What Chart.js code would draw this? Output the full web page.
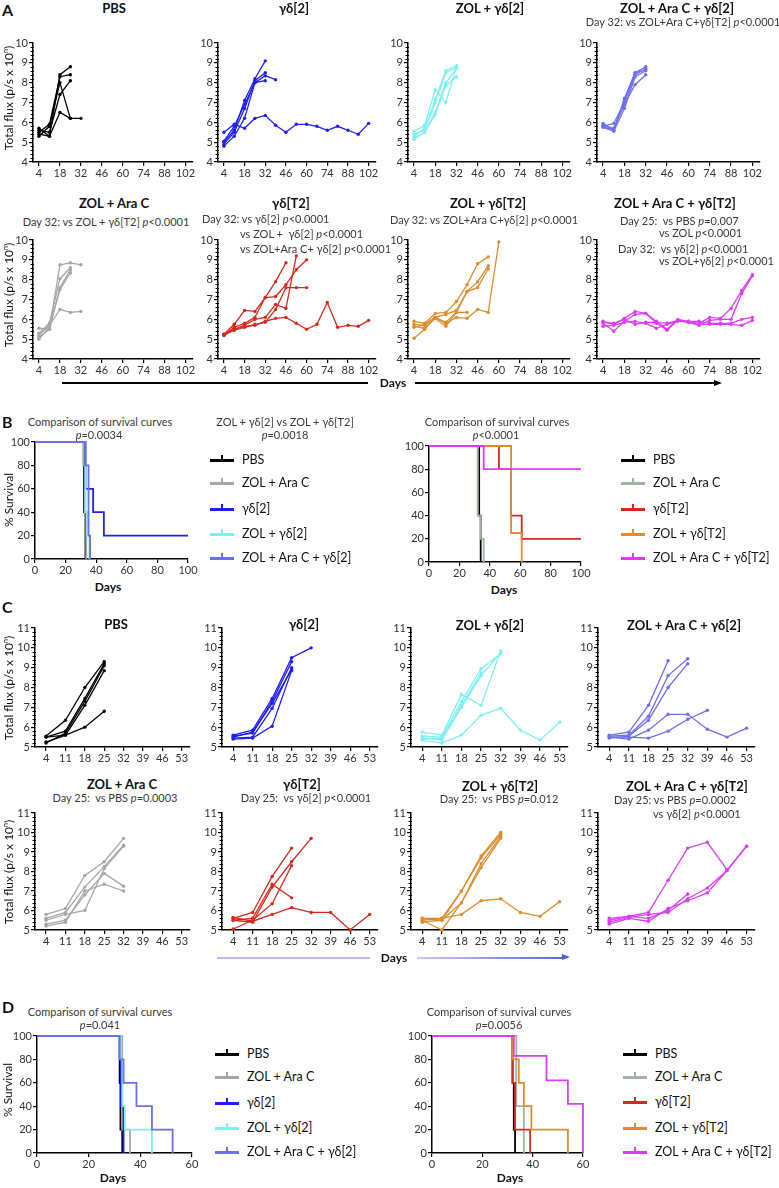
<!DOCTYPE html>
<html>
<head>
<meta charset="utf-8">
<script src="https://cdn.jsdelivr.net/npm/chart.js@4.4.0/dist/chart.umd.min.js"></script>
<style>
body{margin:0;background:#fff;font-family:Lato,"Open Sans",sans-serif;}
#fig{position:relative;width:779px;height:1188px;overflow:hidden;background:#fff;}
#fig canvas{position:absolute;}
.t{position:absolute;white-space:nowrap;line-height:1;color:#111;}
.c{transform:translate(-50%,-50%);}
.l{transform:translateY(-50%);}
.ttl{font-weight:bold;font-size:13px;}
.sub{font-size:11px;color:#3a3a3a;}
.big{font-weight:bold;font-size:16px;}
.rot{transform:translate(-50%,-50%) rotate(-90deg);font-size:12px;}
.leg{font-size:12.5px;}
.days{font-weight:bold;font-size:12px;}
.sym{position:absolute;height:3px;width:25px;}
.sym:after{content:"";position:absolute;left:11px;top:-4px;width:2px;height:5px;background:inherit;}
.bar{position:absolute;}
</style>
</head>
<body>
<div id="fig"></div>
<script>
// ---- data ----
const daysA = [4, 11, 18, 25, 32, 39, 46, 53, 60, 67, 74, 81, 88, 95, 102];
const daysC = [4, 11, 18, 25, 32, 39, 46, 53];
const xTicksA = [4, 18, 32, 46, 60, 74, 88, 102];
const xTicksC = [4, 11, 18, 25, 32, 39, 46, 53];
const yTicksA = [4, 5, 6, 7, 8, 9, 10];
const yTicksC = [5, 6, 7, 8, 9, 10, 11];
const survTicks100 = [0, 20, 40, 60, 80, 100];
const survTicks60 = [0, 20, 40, 60];

// panel A, total flux per mouse (log10)
const A_PBS = [
  [5.4, 5.3, 8.4, 8.8],
  [5.5, 5.9, 8.3, 8.4],
  [5.6, 5.5, 7.4, 8.1],
  [5.3, 5.8, 8.0, 6.2, 6.2],
  [5.7, 5.3, 6.5, 6.2]
];
const A_G2 = [
  [5.0, 5.6, 7.1, 8.2, 9.1],
  [4.9, 5.5, 6.7, 8.1, 8.5],
  [4.8, 5.3, 6.2, 8.0, 8.35, 8.15],
  [5.05, 5.8, 6.9, 8.0, 8.1],
  [5.5, 5.9, 5.7, 6.2, 6.35, 5.85, 5.5, 5.9, 5.9, 5.8, 5.6, 5.8, 5.6, 5.4, 5.95]
];
const A_ZG2 = [
  [5.55, 5.85, 7.65, 7.0, 8.8],
  [5.3, 5.7, 7.15, 8.6, 8.85],
  [5.2, 5.5, 6.5, 8.0, 8.7],
  [5.15, 5.5, 6.4, 7.85, 8.3],
  [5.4, 5.6, 7.0, 8.5, 8.75]
];
const A_ZAG2 = [
  [5.95, 5.6, 7.2, 8.5, 8.8],
  [5.8, 5.95, 7.0, 8.4, 8.7],
  [5.75, 5.55, 6.7, 8.3, 8.6],
  [5.85, 5.7, 6.9, 7.9, 8.4],
  [5.8, 5.6, 7.1, 8.5, 8.65]
];
const A_ZA = [
  [5.55, 5.5, 8.75, 8.85, 8.75],
  [5.3, 5.8, 8.05, 8.6],
  [5.1, 5.5, 7.6, 8.5],
  [5.0, 5.6, 7.5, 8.35],
  [5.2, 5.7, 6.5, 6.35, 6.4]
];
const A_GT2 = [
  [5.25, 5.75, 6.45, 6.4, 7.1, 7.9, 8.85],
  [5.2, 5.6, 5.8, 6.1, 7.1, 7.15, 7.75, 8.5, 9.0],
  [5.25, 5.5, 5.7, 6.0, 6.1, 6.75, 6.55, 9.2],
  [5.2, 5.45, 5.6, 5.75, 5.85, 6.5, 7.6, 7.6, 7.6],
  [5.2, 5.5, 5.65, 5.7, 5.9, 6.05, 6.1, 5.8, 5.5, 5.75, 6.85, 5.6, 5.7, 5.65, 5.95]
];
const A_ZGT2 = [
  [5.9, 5.8, 6.3, 6.35, 6.9, 7.75, 8.8, 9.15],
  [5.75, 5.7, 6.1, 6.25, 6.45, 7.4, 7.9, 8.7],
  [5.65, 5.55, 6.05, 5.65, 6.35, 7.4, 7.6, 8.55],
  [5.6, 5.75, 6.1, 5.8, 6.1, 6.05, 6.5, 6.35, 9.9],
  [5.05, 5.5, 6.1, 5.85, 6.35, 6.35]
];
const A_ZAGT2 = [
  [5.9, 5.75, 6.05, 6.4, 6.3, 5.9, 5.5, 6.0, 5.9, 5.8, 6.1, 6.05, 6.55, 7.45, 8.25],
  [5.8, 5.4, 5.9, 6.25, 6.3, 5.8, 5.45, 5.95, 5.85, 5.7, 5.95, 6.0, 6.0, 7.3, 8.2],
  [5.65, 5.7, 5.85, 5.9, 5.8, 5.55, 5.75, 5.9, 5.9, 5.9, 5.8, 5.8, 5.8, 6.0, 6.1],
  [5.85, 5.8, 6.0, 5.75, 5.85, 5.85, 5.8, 5.95, 5.85, 5.75, 5.75, 5.75, 5.75, 5.7, 5.95]
];

// panel C
const C_PBS = [
  [5.55, 6.35, 8.0, 9.3],
  [5.5, 5.8, 7.45, 9.2],
  [5.2, 5.7, 7.3, 9.1],
  [5.25, 5.6, 7.1, 8.85],
  [5.5, 5.6, 6.0, 6.8]
];
const C_G2 = [
  [5.6, 5.85, 7.45, 9.5, 10.0],
  [5.55, 5.7, 7.3, 9.3],
  [5.45, 5.5, 6.95, 9.0],
  [5.4, 5.45, 6.05, 8.85],
  [5.5, 5.75, 7.2, 8.9]
];
const C_ZG2 = [
  [5.75, 5.6, 7.65, 7.1, 9.85],
  [5.55, 5.5, 7.3, 8.95, 9.7],
  [5.45, 5.35, 7.0, 8.6, 9.75],
  [5.35, 5.2, 5.6, 6.6, 6.95, 5.85, 5.35, 6.25],
  [5.4, 5.45, 7.1, 8.75]
];
const C_ZAG2 = [
  [5.6, 5.75, 7.1, 9.35],
  [5.55, 5.6, 6.55, 8.6, 9.45],
  [5.45, 5.55, 6.35, 8.0, 9.2],
  [5.5, 5.4, 5.85, 6.65, 6.65, 5.9, 5.5, 5.95],
  [5.5, 5.5, 5.45, 5.8, 6.4, 6.85]
];
const C_ZA = [
  [5.8, 6.1, 7.8, 8.5, 9.7],
  [5.6, 5.9, 7.2, 8.25, 9.35],
  [5.3, 5.5, 6.8, 7.9, 7.25],
  [5.2, 5.4, 7.0, 7.35, 7.0],
  [5.5, 5.8, 6.0, 8.15, 9.3]
];
const C_GT2 = [
  [5.6, 5.9, 7.75, 9.2],
  [5.5, 5.4, 7.2, 8.5, 9.7],
  [5.05, 5.5, 6.35, 8.3],
  [5.5, 5.6, 7.35, 6.65],
  [5.65, 5.45, 5.8, 6.15, 5.9, 5.9, 5.0, 5.8]
];
const C_ZGT2 = [
  [5.6, 5.5, 7.0, 8.8, 10.0],
  [5.5, 5.6, 7.0, 8.7, 9.9],
  [5.4, 5.5, 6.4, 8.4, 9.8],
  [5.5, 5.0, 6.4, 8.2, 9.7],
  [5.6, 5.6, 5.8, 6.5, 6.6, 5.9, 5.7, 6.45]
];
const C_ZAGT2 = [
  [5.5, 5.7, 5.9, 7.55, 9.2, 9.5, 8.1],
  [5.6, 5.7, 5.6, 6.0, 6.85],
  [5.4, 5.65, 5.8, 5.9, 6.6, 7.15, 8.05, 9.3],
  [5.3, 5.6, 5.45, 6.1, 6.5, 6.9, 8.05, 9.3]
];

// survival curves: event days and % survival after each step
const BL_PBS_days = [0, 32, 33],             BL_PBS_surv = [100, 40, 0];
const BL_ZA_days = [0, 31.5, 32.5, 33.5],    BL_ZA_surv = [100, 80, 40, 0];
const BL_G2_days = [0, 33, 38, 45, 100],     BL_G2_surv = [100, 60, 40, 20, 20];
const BL_ZG2_days = [0, 33, 34, 35.5],       BL_ZG2_surv = [100, 40, 20, 0];
const BL_ZAG2_days = [0, 33, 35, 36],        BL_ZAG2_surv = [100, 80, 20, 0];

const BR_PBS_days = [0, 33, 34],             BR_PBS_surv = [100, 40, 0];
const BR_ZA_days = [0, 32, 34, 36],          BR_ZA_surv = [100, 40, 20, 0];
const BR_GT2_days = [0, 46, 54, 61, 100],    BR_GT2_surv = [100, 80, 40, 20, 20];
const BR_ZGT2_days = [0, 54, 61],            BR_ZGT2_surv = [100, 25, 0];
const BR_ZAGT2_days = [0, 36, 100],          BR_ZAGT2_surv = [100, 80, 80];

const DL_PBS_days = [0, 32, 32.3, 33],       DL_PBS_surv = [100, 60, 20, 0];
const DL_ZA_days = [0, 33, 36],              DL_ZA_surv = [100, 20, 0];
const DL_G2_days = [0, 32, 32.5, 33.5],      DL_G2_surv = [100, 80, 40, 0];
const DL_ZG2_days = [0, 32.5, 33, 34, 44.5], DL_ZG2_surv = [100, 80, 40, 20, 0];
const DL_ZAG2_days = [0, 32, 33.5, 38.5, 44.5, 52.5], DL_ZAG2_surv = [100, 80, 60, 40, 20, 0];

const DR_PBS_days = [0, 32, 32.5, 33],       DR_PBS_surv = [100, 60, 20, 0];
const DR_ZA_days = [0, 33.5, 36.5],          DR_ZA_surv = [100, 40, 0];
const DR_GT2_days = [0, 32, 33, 39],         DR_GT2_surv = [100, 60, 20, 0];
const DR_ZGT2_days = [0, 32, 34.5, 36.5, 39.5, 54], DR_ZGT2_surv = [100, 80, 60, 40, 20, 0];
const DR_ZAGT2_days = [0, 32.5, 45.5, 54, 60], DR_ZAGT2_surv = [100, 83, 62, 42, 0];

// colours
const cBlack = '#000000', cGray = '#a6a6a6', cGreenGray = '#a3b3a3', cBlue = '#1e1ef5',
      cCyan = '#7ff0f0', cSlate = '#6e6ef0', cRed = '#d42a1e', cOrange = '#de8c2d', cMag = '#dc3cf5';

// ---- helpers ----
const fig = document.getElementById('fig');
function txt(x, y, html, cls) {
  const d = document.createElement('div');
  d.className = 't ' + cls;
  d.style.left = x + 'px';
  d.style.top = y + 'px';
  d.innerHTML = html;
  fig.appendChild(d);
}
function box(x, y, w, h, css, cls) {
  const d = document.createElement('div');
  d.className = cls || 'bar';
  d.style.cssText = `left:${x}px;top:${y}px;width:${w}px;height:${h}px;` + css;
  fig.appendChild(d);
}

// small ticks between the labelled ones on the y axis
const minorTicks = {
  id: 'minorTicks',
  afterDraw(chart, args, opts) {
    if (!opts.n) return;
    const s = chart.scales.y, ctx = chart.ctx, t = s.ticks;
    ctx.save();
    ctx.strokeStyle = '#000';
    ctx.lineWidth = 1;
    for (let i = 0; i < t.length - 1; i++) {
      for (let k = 1; k < opts.n; k++) {
        const py = Math.round(s.getPixelForValue(t[i].value + (t[i + 1].value - t[i].value) * k / opts.n)) + 0.5;
        ctx.beginPath();
        ctx.moveTo(s.right - 2.5, py);
        ctx.lineTo(s.right + 1, py);
        ctx.stroke();
      }
    }
    ctx.restore();
  }
};
Chart.register(minorTicks);

const YW = 30, XH = 18, PT = 8, PR = 12;
function axisChart(area, xMax, xTicks, yMin, yMax, yTicks, datasets, minor) {
  const cv = document.createElement('canvas');
  const w = area[1] - area[0] + YW + PR, h = area[3] - area[2] + PT + XH;
  cv.width = w; cv.height = h;
  cv.style.left = (area[0] - YW) + 'px';
  cv.style.top = (area[2] - PT) + 'px';
  cv.style.width = w + 'px';
  cv.style.height = h + 'px';
  fig.appendChild(cv);
  const tickFont = { family: 'Lato', size: 11 };
  new Chart(cv, {
    type: 'line',
    data: { datasets: datasets },
    options: {
      responsive: false, animation: false, devicePixelRatio: 1,
      layout: { padding: { top: PT, right: PR, left: 0, bottom: 0 } },
      plugins: { legend: { display: false }, tooltip: { enabled: false }, minorTicks: { n: minor } },
      scales: {
        x: {
          type: 'linear', min: 0, max: xMax,
          afterBuildTicks: s => { s.ticks = xTicks.map(v => ({ value: v })); },
          afterFit: s => { s.height = XH; s.paddingLeft = 0; s.paddingRight = 0; },
          grid: { drawOnChartArea: false, tickLength: 4, color: '#000', lineWidth: 1.2 },
          border: { color: '#000', width: 1.5 },
          ticks: { font: tickFont, color: '#333', padding: 1, maxRotation: 0, autoSkip: false }
        },
        y: {
          type: 'linear', min: yMin, max: yMax,
          afterBuildTicks: s => { s.ticks = yTicks.map(v => ({ value: v })); },
          afterFit: s => { s.width = YW; s.paddingTop = 0; s.paddingBottom = 0; },
          grid: { drawOnChartArea: false, tickLength: 4, color: '#000', lineWidth: 1.2 },
          border: { color: '#000', width: 1.5 },
          ticks: { font: tickFont, color: '#333', padding: 1, autoSkip: false }
        }
      }
    }
  });
}
function fluxSets(days, lines, color) {
  return lines.map(vals => ({
    data: vals.map((v, i) => ({ x: days[i], y: v })),
    borderColor: color, backgroundColor: color,
    pointBackgroundColor: color, pointBorderColor: color,
    borderWidth: 1.3, pointRadius: 1.7, pointBorderWidth: 0, tension: 0, clip: false
  }));
}
function survSets(curves) {
  return curves.map(([d, s, c]) => ({
    data: d.map((v, i) => ({ x: v, y: s[i] })),
    stepped: true, borderColor: c, borderWidth: 1.8, pointRadius: 0, clip: false
  })).reverse();
}
function legend(x0, xt, ys, items) {
  items.forEach(([label, color], i) => {
    box(x0, ys[i] - 1, xt - x0 - 8, 3, 'background:' + color + ';', 'sym');
    txt(xt, ys[i], label, 'l leg');
  });
}
const flux = 'Total flux (p/s x 10<sup style="font-size:7px">n</sup>)';

// ---- panel A ----
const rowA1 = [43, 162], rowA2 = [240, 359];
const colA = [[33, 193], [218, 376], [408, 570], [597, 760]];
const A1 = [[A_PBS, cBlack], [A_G2, cBlue], [A_ZG2, cCyan], [A_ZAG2, cSlate]];
const A2 = [[A_ZA, cGray], [A_GT2, cRed], [A_ZGT2, cOrange], [A_ZAGT2, cMag]];
A1.forEach(([lines, c], i) => axisChart([colA[i][0], colA[i][1], rowA1[0], rowA1[1]], 107, xTicksA, 4, 10, yTicksA, fluxSets(daysA, lines, c), 5));
A2.forEach(([lines, c], i) => axisChart([colA[i][0], colA[i][1], rowA2[0], rowA2[1]], 107, xTicksA, 4, 10, yTicksA, fluxSets(daysA, lines, c), 5));

txt(2, 10, 'A', 'l big');
txt(114, 8, 'PBS', 'c ttl');
txt(294, 8, 'γδ[2]', 'c ttl');
txt(490, 8, 'ZOL + γδ[2]', 'c ttl');
txt(677, 8, 'ZOL + Ara C + γδ[2]', 'c ttl');
txt(683, 21, 'Day 32: vs ZOL+Ara C+γδ[T2] <i>p</i>&lt;0.0001', 'c sub');
txt(114, 203, 'ZOL + Ara C', 'c ttl');
txt(106, 221, 'Day 32: vs ZOL + γδ[T2] <i>p</i>&lt;0.0001', 'c sub');
txt(291, 203, 'γδ[T2]', 'c ttl');
txt(202, 218, 'Day 32: vs γδ[2] <i>p</i>&lt;0.0001', 'l sub');
txt(240, 233, 'vs ZOL +&nbsp; γδ[2] <i>p</i>&lt;0.0001', 'l sub');
txt(240, 248, 'vs ZOL+Ara C+ γδ[2] <i>p</i>&lt;0.0001', 'l sub');
txt(488, 203, 'ZOL + γδ[T2]', 'c ttl');
txt(484, 219, 'Day 32: vs ZOL+Ara C+γδ[2] <i>p</i>&lt;0.0001', 'c sub');
txt(675, 203, 'ZOL + Ara C + γδ[T2]', 'c ttl');
txt(620, 220, 'Day 25:&nbsp; vs PBS <i>p</i>=0.007', 'l sub');
txt(659, 232, 'vs ZOL <i>p</i>&lt;0.0001', 'l sub');
txt(618, 248, 'Day 32:&nbsp; vs γδ[2] <i>p</i>&lt;0.0001', 'l sub');
txt(659, 260, 'vs ZOL+γδ[2] <i>p</i>&lt;0.0001', 'l sub');
txt(8, 98, flux, 'rot');
txt(8, 295, flux, 'rot');
box(62, 382, 306, 2, 'background:#000;');
txt(393, 383, 'Days', 'c days');
box(415, 382, 300, 2, 'background:#000;');
box(714, 379.5, 0, 0, 'border-left:8px solid #000;border-top:3.5px solid transparent;border-bottom:3.5px solid transparent;');

// ---- panel B ----
axisChart([35, 188, 442, 559], 100, survTicks100, 0, 100, survTicks100, survSets([
  [BL_PBS_days, BL_PBS_surv, cBlack], [BL_ZA_days, BL_ZA_surv, cGray], [BL_G2_days, BL_G2_surv, cBlue],
  [BL_ZG2_days, BL_ZG2_surv, cCyan], [BL_ZAG2_days, BL_ZAG2_surv, cSlate]]), 0);
axisChart([429, 581, 446, 562], 100, survTicks100, 0, 100, survTicks100, survSets([
  [BR_PBS_days, BR_PBS_surv, cBlack], [BR_ZA_days, BR_ZA_surv, cGreenGray], [BR_GT2_days, BR_GT2_surv, cRed],
  [BR_ZGT2_days, BR_ZGT2_surv, cOrange], [BR_ZAGT2_days, BR_ZAGT2_surv, cMag]]), 0);
txt(2, 422, 'B', 'l big');
txt(100, 421, 'Comparison of survival curves', 'c sub');
txt(99, 434, '<i>p</i>=0.0034', 'c sub');
txt(285, 421, 'ZOL + γδ[2] vs ZOL + γδ[T2]', 'c sub');
txt(285, 434, '<i>p</i>=0.0018', 'c sub');
txt(497, 421, 'Comparison of survival curves', 'c sub');
txt(496, 434, '<i>p</i>&lt;0.0001', 'c sub');
txt(9, 500, '% Survival', 'rot');
txt(108, 587, 'Days', 'c days');
txt(504, 590, 'Days', 'c days');
legend(210, 242, [460, 483, 509, 534, 558], [['PBS', cBlack], ['ZOL + Ara C', cGray], ['γδ[2]', cBlue], ['ZOL + γδ[2]', cCyan], ['ZOL + Ara C + γδ[2]', cSlate]]);
legend(621, 653, [460, 483, 509, 534, 558], [['PBS', cBlack], ['ZOL + Ara C', cGreenGray], ['γδ[T2]', cRed], ['ZOL + γδ[T2]', cOrange], ['ZOL + Ara C + γδ[T2]', cMag]]);

// ---- panel C ----
const rowC1 = [628, 747], rowC2 = [813, 930];
const colC = [[35, 190], [222, 378], [411, 568], [598, 755]];
const C1 = [[C_PBS, cBlack], [C_G2, cBlue], [C_ZG2, cCyan], [C_ZAG2, cSlate]];
const C2 = [[C_ZA, cGray], [C_GT2, cRed], [C_ZGT2, cOrange], [C_ZAGT2, cMag]];
C1.forEach(([lines, c], i) => axisChart([colC[i][0], colC[i][1], rowC1[0], rowC1[1]], 56, xTicksC, 5, 11, yTicksC, fluxSets(daysC, lines, c), 5));
C2.forEach(([lines, c], i) => axisChart([colC[i][0], colC[i][1], rowC2[0], rowC2[1]], 56, xTicksC, 5, 11, yTicksC, fluxSets(daysC, lines, c), 5));

txt(2, 607, 'C', 'l big');
txt(116, 624, 'PBS', 'c ttl');
txt(304, 624, 'γδ[2]', 'c ttl');
txt(490, 625, 'ZOL + γδ[2]', 'c ttl');
txt(684, 625, 'ZOL + Ara C + γδ[2]', 'c ttl');
txt(122, 784, 'ZOL + Ara C', 'c ttl');
txt(115, 797, 'Day 25:&nbsp; vs PBS <i>p</i>=0.0003', 'c sub');
txt(302, 784, 'γδ[T2]', 'c ttl');
txt(306, 797, 'Day 25:&nbsp; vs γδ[2] <i>p</i>&lt;0.0001', 'c sub');
txt(500, 786, 'ZOL + γδ[T2]', 'c ttl');
txt(499, 798, 'Day 25:&nbsp; vs PBS <i>p</i>=0.012', 'c sub');
txt(687, 786, 'ZOL + Ara C + γδ[T2]', 'c ttl');
txt(614, 799, 'Day 25: vs PBS <i>p</i>=0.0002', 'l sub');
txt(653, 813, 'vs γδ[2] <i>p</i>&lt;0.0001', 'l sub');
txt(8, 688, flux, 'rot');
txt(8, 872, flux, 'rot');
box(217, 957, 153, 1.5, 'background:#b7c1ef;');
txt(394, 958, 'Days', 'c days');
box(417, 957, 146, 1.5, 'background:linear-gradient(to right,#c3cbf2,#5b6bd8);');
box(562, 954, 0, 0, 'border-left:8px solid #4c5cd2;border-top:3.5px solid transparent;border-bottom:3.5px solid transparent;');

// ---- panel D ----
axisChart([37, 192, 1036, 1153], 60, survTicks60, 0, 100, survTicks100, survSets([
  [DL_PBS_days, DL_PBS_surv, cBlack], [DL_ZA_days, DL_ZA_surv, cGray], [DL_G2_days, DL_G2_surv, cBlue],
  [DL_ZG2_days, DL_ZG2_surv, cCyan], [DL_ZAG2_days, DL_ZAG2_surv, cSlate]]), 0);
axisChart([432, 583, 1036, 1153], 60, survTicks60, 0, 100, survTicks100, survSets([
  [DR_PBS_days, DR_PBS_surv, cBlack], [DR_ZA_days, DR_ZA_surv, cGreenGray], [DR_GT2_days, DR_GT2_surv, cRed],
  [DR_ZGT2_days, DR_ZGT2_surv, cOrange], [DR_ZAGT2_days, DR_ZAGT2_surv, cMag]]), 0);
txt(2, 1007, 'D', 'l big');
txt(100, 1011, 'Comparison of survival curves', 'c sub');
txt(100, 1024, '<i>p</i>=0.041', 'c sub');
txt(499, 1011, 'Comparison of survival curves', 'c sub');
txt(499, 1024, '<i>p</i>=0.0056', 'c sub');
txt(8, 1090, '% Survival', 'rot');
txt(113, 1178, 'Days', 'c days');
txt(510, 1178, 'Days', 'c days');
legend(215, 247, [1054, 1077, 1103, 1128, 1152], [['PBS', cBlack], ['ZOL + Ara C', cGray], ['γδ[2]', cBlue], ['ZOL + γδ[2]', cCyan], ['ZOL + Ara C + γδ[2]', cSlate]]);
legend(623, 655, [1054, 1077, 1102, 1128, 1152], [['PBS', cBlack], ['ZOL + Ara C', cGreenGray], ['γδ[T2]', cRed], ['ZOL + γδ[T2]', cOrange], ['ZOL + Ara C + γδ[T2]', cMag]]);
</script>
</body>
</html>
